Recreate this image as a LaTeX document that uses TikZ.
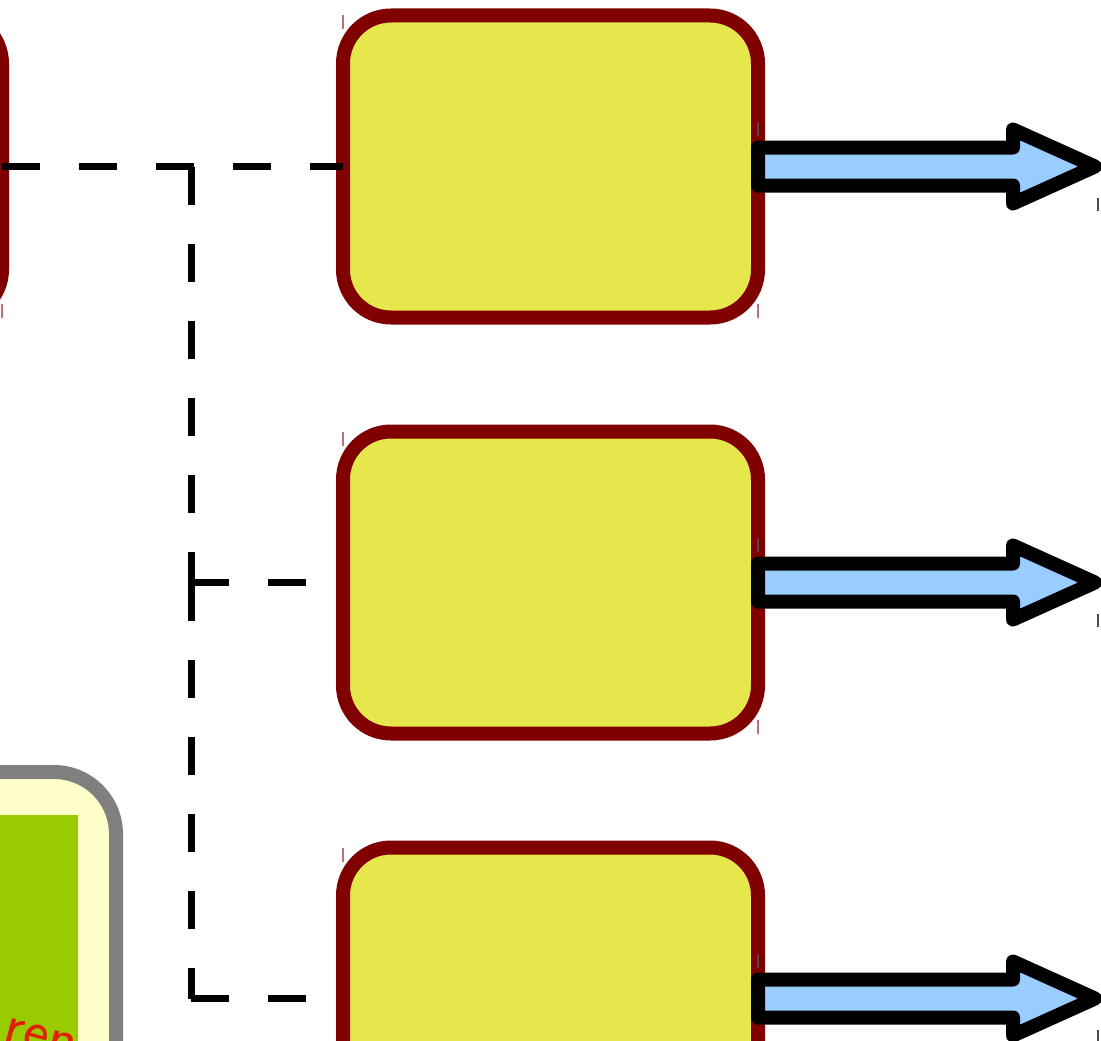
\documentclass[tikz,border=0pt]{standalone}
\usetikzlibrary{positioning}

\definecolor{boxred}{HTML}{800000}
\definecolor{boxyellow}{HTML}{E6E64D}
\definecolor{arrowblue}{HTML}{99CCFF}
\definecolor{paleyellow}{HTML}{FFFFCC}
\definecolor{leafgreen}{HTML}{99CC00}
\definecolor{labelred}{HTML}{E02000}

\tikzset{
  procbox/.style={draw=boxred, fill=boxyellow, line width=14pt, rounded corners=48pt,
    minimum width=415pt, minimum height=302pt, inner sep=0pt, outer sep=0pt},
  link/.style={line width=7pt, dash pattern=on 38pt off 39pt},
  fatarrow/.style={draw=black, fill=arrowblue, line width=14pt, line join=round},
  cornertick/.style={line width=1.3pt, draw=boxred!55},
  darktick/.style={line width=1.3pt, draw=black!70}
}

\begin{document}
\begin{tikzpicture}[x=1pt, y=-1pt]
  \useasboundingbox (0,0) rectangle (1101,1041);
  \clip (0,0) rectangle (1101,1041);

  % panel bottom left
  \node[draw=gray, fill=paleyellow, line width=14pt, rounded corners=62pt,
        minimum width=400pt, minimum height=400pt, outer sep=0pt, anchor=north east] (panel) at (116,772) {};
  \node[fill=leafgreen, minimum width=300pt, minimum height=300pt, outer sep=0pt, anchor=north east] (leaf) at (78,815) {};
  \node[text=labelred, rotate=-15, anchor=base east, inner sep=0pt,
        font=\sffamily\fontsize{60}{60}\selectfont] (leaflbl) at (73,1062) {ren};

  % boxes
  \node[procbox] (b1) at (550.5,166.5) {};
  \node[procbox, below=114pt of b1] (b2) {};
  \node[procbox, below=114pt of b2] (b3) {};
  \node[procbox, left=341pt of b1] (src) {};

  % dashed links
  \coordinate (j1) at (191,166.5);
  \coordinate (j2) at (b2.west -| j1);
  \coordinate (j3) at (b3.west -| j1);
  \draw[link] (src.east) -- (b1.west);
  \draw[link] (j1) -- (j2);
  \draw[link] (j2) -- (b2.west);
  \draw[link] (j2) -- (j3);
  \draw[link] (j3) -- (b3.west);

  % outputs
  \foreach \b in {b1,b2,b3}
    \draw[fatarrow] ([yshift=19pt]\b.east) -- ++(255,0) -- ++(0,-18) -- ++(82,37)
      -- ++(-82,37) -- ++(0,-18) -- ++(-255,0) -- cycle;

  % corner ticks
  \foreach \b in {b1,b2,b3,src} {
    \draw[cornertick] (\b.north west) -- ++(0,14);
    \draw[cornertick] (\b.south east) -- ++(0,-14);
  }
  \foreach \b in {b1,b2,b3} {
    \draw[darktick] ([yshift=44pt]\b.east) -- ++(0,13);
    \draw[darktick] ([xshift=340pt,yshift=-31pt]\b.east) -- ++(0,13);
  }
\end{tikzpicture}
\end{document}
